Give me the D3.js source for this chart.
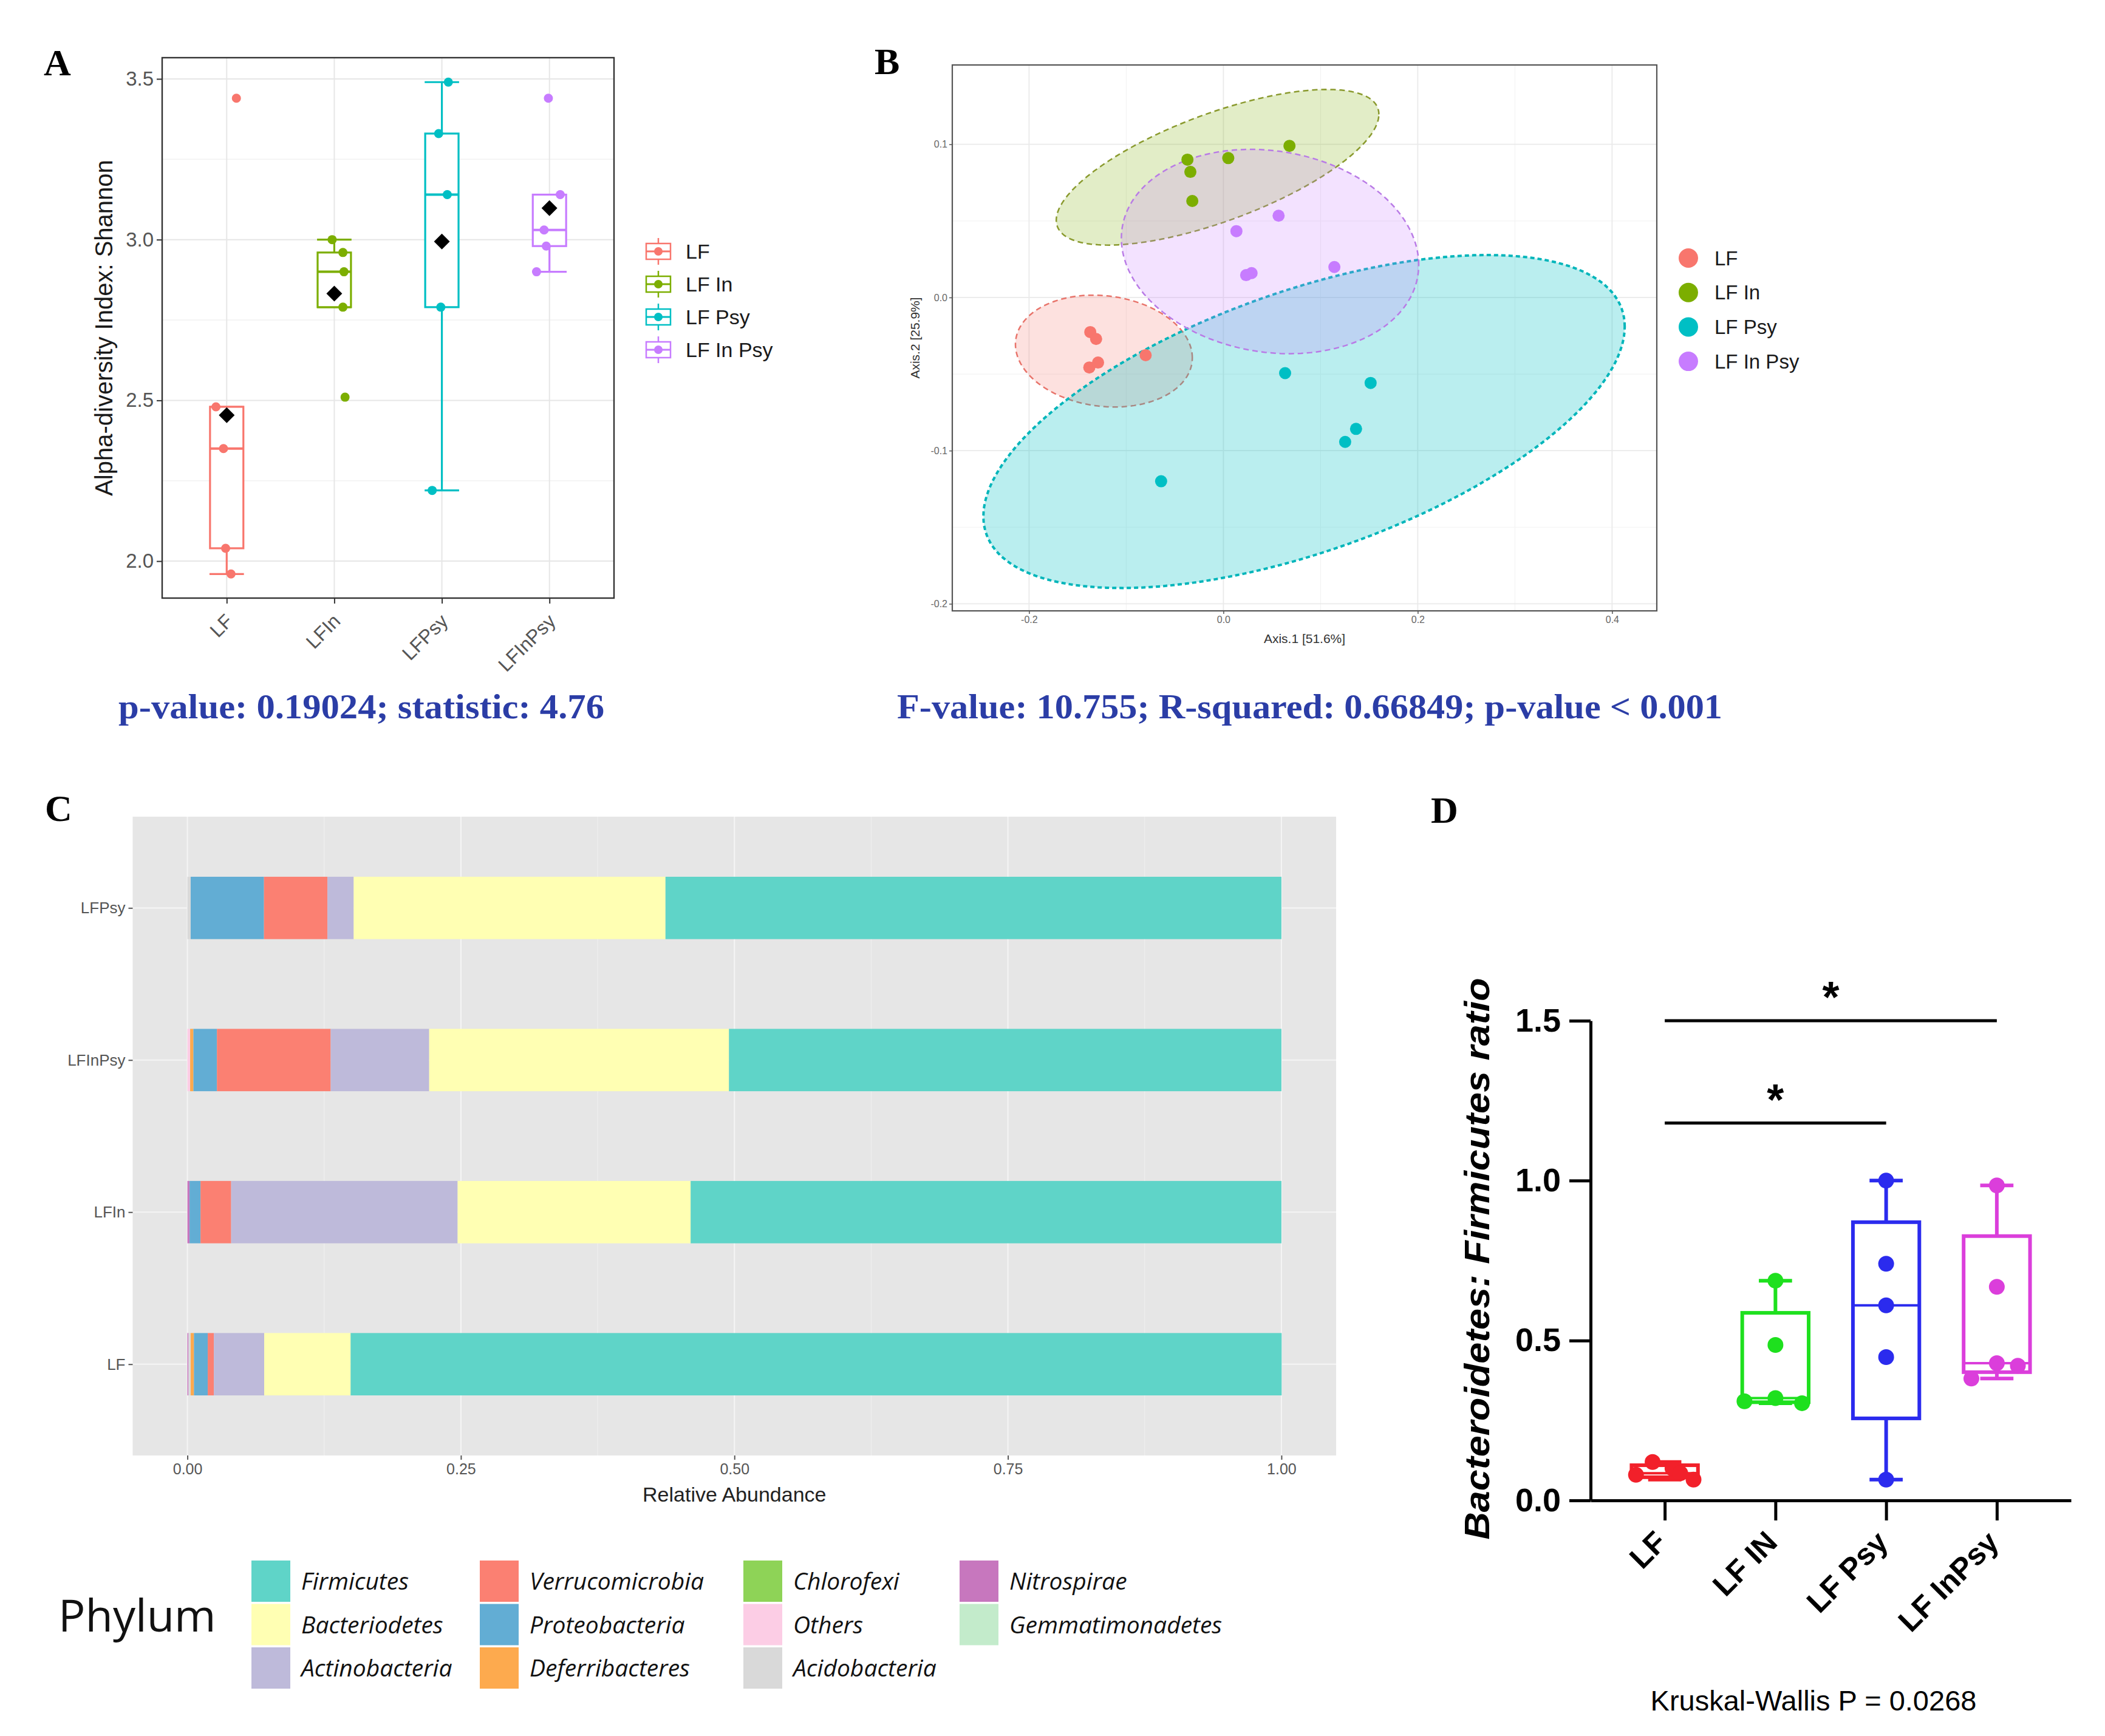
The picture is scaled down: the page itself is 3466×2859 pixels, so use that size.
<!DOCTYPE html>
<html><head><meta charset="utf-8">
<script src="https://cdn.jsdelivr.net/npm/d3@7/dist/d3.min.js"></script>
<style>html,body{margin:0;padding:0;background:#fff;} svg{display:block;}</style>
</head><body>
<svg id="fig" width="3466" height="2859" xmlns="http://www.w3.org/2000/svg"></svg>
<script>
// ================= DATA =================
// Panel A : Shannon alpha diversity
const groupsA = ["LF", "LFIn", "LFPsy", "LFInPsy"];
const legendLabels = ["LF", "LF In", "LF Psy", "LF In Psy"];
const shannonLF = [3.44, 2.48, 2.35, 2.04, 1.96];
const shannonLFIn = [3.00, 2.96, 2.90, 2.79, 2.51];
const shannonLFPsy = [3.49, 3.33, 3.14, 2.79, 2.22];
const shannonLFInPsy = [3.44, 3.14, 3.03, 2.98, 2.90];
const jitterLF = [0.09, -0.10, -0.03, -0.01, 0.04];
const jitterLFIn = [-0.02, 0.08, 0.09, 0.08, 0.10];
const jitterLFPsy = [0.06, -0.03, 0.05, -0.01, -0.09];
const jitterLFInPsy = [-0.01, 0.10, -0.05, -0.03, -0.12];
const yTicksA = [2.0, 2.5, 3.0, 3.5];
const yMinorA = [2.25, 2.75, 3.25];
const statA = "p-value: 0.19024; statistic: 4.76";

// Panel B : PCoA
const pcoaX_LF = [-0.137, -0.131, -0.138, -0.129, -0.080];
const pcoaY_LF = [-0.0226, -0.0271, -0.0457, -0.0425, -0.0377];
const pcoaX_LFIn = [-0.037, -0.034, -0.032, 0.005, 0.068];
const pcoaY_LFIn = [0.090, 0.082, 0.063, 0.091, 0.099];
const pcoaX_LFPsy = [0.0635, 0.1515, 0.1365, 0.1253, -0.0641];
const pcoaY_LFPsy = [-0.0494, -0.0558, -0.0858, -0.0943, -0.120];
const pcoaX_LFInPsy = [0.0134, 0.0568, 0.0234, 0.029, 0.1142];
const pcoaY_LFInPsy = [0.0433, 0.0534, 0.0146, 0.0159, 0.0199];
// confidence ellipses (centre, x/y half-extent, correlation) in axis units, order LF, LF In, LF Psy, LF In Psy
const ellipseCx = [-0.123, -0.006, 0.083, 0.048];
const ellipseCy = [-0.035, 0.085, -0.081, 0.030];
const ellipseSx = [0.091, 0.166, 0.330, 0.153];
const ellipseSy = [0.0365, 0.0508, 0.1087, 0.0667];
const ellipseR = [-0.12, 0.68, 0.57, -0.13];
const xTicksB = [-0.2, 0.0, 0.2, 0.4];
const xMinorB = [-0.1, 0.1, 0.3];
const yTicksB = [-0.2, -0.1, 0.0, 0.1];
const yMinorB = [-0.15, -0.05, 0.05];
const axisLabelB1 = "Axis.1   [51.6%]";
const axisLabelB2 = "Axis.2   [25.9%]";
const statB = "F-value: 10.755; R-squared: 0.66849; p-value < 0.001";

// Panel C : relative abundance by phylum
const samplesC = ["LFPsy", "LFInPsy", "LFIn", "LF"];
const phyla = ["Firmicutes", "Bacteriodetes", "Actinobacteria", "Verrucomicrobia", "Proteobacteria",
  "Deferribacteres", "Chlorofexi", "Others", "Acidobacteria", "Nitrospirae", "Gemmatimonadetes"];
const phylaColors = ["#5FD4C8", "#FFFFB3", "#BEBADA", "#FB8072", "#62ADD4",
  "#FDAA4E", "#8ED357", "#FCCDE5", "#D9D9D9", "#C777BE", "#C3EBCB"];
const abundLF = [0.851, 0.079, 0.046, 0.0056, 0.0126, 0.003, 0, 0, 0.002, 0.001, 0];
const abundLFIn = [0.540, 0.213, 0.207, 0.028, 0.010, 0, 0, 0, 0, 0.002, 0];
const abundLFInPsy = [0.505, 0.274, 0.090, 0.104, 0.0215, 0.003, 0, 0.0025, 0, 0, 0];
const abundLFPsy = [0.563, 0.285, 0.024, 0.058, 0.067, 0, 0, 0, 0.003, 0, 0];
const xTicksC = [0, 0.25, 0.5, 0.75, 1.0];
const xMinorC = [0.125, 0.375, 0.625, 0.875];

// Panel D : Bacteroidetes / Firmicutes ratio
const groupsD = ["LF", "LF IN", "LF Psy", "LF InPsy"];
const colorsD = ["#F2202A", "#1EE01E", "#2B2BEE", "#DB3EDB"];
const ratioLF = [0.080, 0.120, 0.100, 0.065, 0.085];
const ratioLFIN = [0.687, 0.486, 0.310, 0.320, 0.304];
const ratioLFPsy = [1.000, 0.740, 0.610, 0.448, 0.065];
const ratioLFInPsy = [0.985, 0.668, 0.429, 0.421, 0.381];
const dodgeLF = [-0.26, -0.11, 0.07, 0.26, 0.14];
const dodgeLFIN = [0, 0, -0.28, 0, 0.24];
const dodgeLFPsy = [0, 0, 0, 0, 0];
const dodgeLFInPsy = [0, 0, 0, 0.19, -0.23];
const yTicksD = [0.0, 0.5, 1.0, 1.5];
const sigFrom = ["LF", "LF"];
const sigTo = ["LF InPsy", "LF Psy"];
const sigY = [1.5, 1.18];
const statD = "Kruskal-Wallis P = 0.0268";

// ================= DRAWING =================
const svg = d3.select("#fig");
const sans = "'Liberation Sans', Arial, Helvetica, sans-serif";
const serif = "'Liberation Serif', 'Times New Roman', serif";
const oSans = "'Open Sans', 'Noto Sans', sans-serif";
const hue = ["#F8766D", "#7CAE00", "#00BFC4", "#C77CFF"];

svg.append("rect").attr("width", 3466).attr("height", 2859).attr("fill", "#fff");

function panelLetter(t, x, y) {
  svg.append("text").attr("x", x).attr("y", y).text(t)
    .attr("font-family", serif).attr("font-weight", "bold").attr("font-size", 62).attr("fill", "#000");
}
panelLetter("A", 72, 124);
panelLetter("B", 1440, 122);
panelLetter("C", 74, 1352);
panelLetter("D", 2356, 1355);

// ---------- Panel A ----------
(function () {
  const P = {l: 267, r: 1011, t: 95, b: 985};
  const x = d3.scalePoint().domain(groupsA).range([P.l, P.r]).padding(0.6);
  const y = d3.scaleLinear().domain([1.885, 3.566]).range([P.b, P.t]);
  const step = x.step();
  const g = svg.append("g");
  g.append("rect").attr("x", P.l).attr("y", P.t).attr("width", P.r - P.l).attr("height", P.b - P.t).attr("fill", "#fff");
  g.selectAll(".gmin").data(yMinorA).join("line")
    .attr("x1", P.l).attr("x2", P.r).attr("y1", d => y(d)).attr("y2", d => y(d))
    .attr("stroke", "#F1F1F1").attr("stroke-width", 1.5);
  g.selectAll(".gmaj").data(yTicksA).join("line")
    .attr("x1", P.l).attr("x2", P.r).attr("y1", d => y(d)).attr("y2", d => y(d))
    .attr("stroke", "#E6E6E6").attr("stroke-width", 2);
  g.selectAll(".gx").data(groupsA).join("line")
    .attr("x1", d => x(d)).attr("x2", d => x(d)).attr("y1", P.t).attr("y2", P.b)
    .attr("stroke", "#E6E6E6").attr("stroke-width", 2);

  const sets = [shannonLF, shannonLFIn, shannonLFPsy, shannonLFInPsy];
  const jits = [jitterLF, jitterLFIn, jitterLFPsy, jitterLFInPsy];
  sets.forEach((vals, i) => {
    const s = vals.slice().sort(d3.ascending);
    const q1 = d3.quantile(s, 0.25), med = d3.quantile(s, 0.5), q3 = d3.quantile(s, 0.75);
    const iqr = q3 - q1;
    const lo = d3.min(s.filter(v => v >= q1 - 1.5 * iqr));
    const hi = d3.max(s.filter(v => v <= q3 + 1.5 * iqr));
    const cx = x(groupsA[i]);
    const bw = 0.31 * step, cw = 0.16 * step;
    const col = hue[i];
    const b = g.append("g").attr("stroke", col).attr("stroke-width", 3.2).attr("fill", "none");
    b.append("line").attr("x1", cx).attr("x2", cx).attr("y1", y(lo)).attr("y2", y(q1));
    b.append("line").attr("x1", cx).attr("x2", cx).attr("y1", y(q3)).attr("y2", y(hi));
    [lo, hi].forEach(v => b.append("line").attr("x1", cx - cw).attr("x2", cx + cw).attr("y1", y(v)).attr("y2", y(v)));
    b.append("rect").attr("x", cx - bw / 2).attr("width", bw).attr("y", y(q3)).attr("height", y(q1) - y(q3)).attr("fill", "#fff");
    b.append("line").attr("x1", cx - bw / 2).attr("x2", cx + bw / 2).attr("y1", y(med)).attr("y2", y(med)).attr("stroke-width", 4);
    g.selectAll(null).data(vals).join("circle")
      .attr("cx", (d, k) => cx + jits[i][k] * step).attr("cy", d => y(d)).attr("r", 7.5).attr("fill", col);
    const m = d3.mean(vals), my = y(m), h = 13;
    g.append("path").attr("d", `M${cx},${my - h}L${cx + h},${my}L${cx},${my + h}L${cx - h},${my}Z`).attr("fill", "#000");
  });

  g.append("rect").attr("x", P.l).attr("y", P.t).attr("width", P.r - P.l).attr("height", P.b - P.t)
    .attr("fill", "none").attr("stroke", "#333").attr("stroke-width", 2.4);

  const ay = g.append("g").attr("transform", `translate(${P.l},0)`)
    .call(d3.axisLeft(y).tickValues(yTicksA).tickFormat(d3.format(".1f")).tickSize(9).tickPadding(5));
  ay.select(".domain").remove();
  ay.selectAll("line").attr("stroke", "#333").attr("stroke-width", 2);
  ay.selectAll("text").attr("font-size", 33).attr("font-family", sans).attr("fill", "#555");
  const ax = g.append("g").attr("transform", `translate(0,${P.b})`)
    .call(d3.axisBottom(x).tickSize(9).tickSizeOuter(0));
  ax.select(".domain").remove();
  ax.selectAll("text").remove();
  ax.selectAll("line").attr("stroke", "#333").attr("stroke-width", 2);
  g.selectAll(".xl").data(groupsA).join("text")
    .attr("transform", d => `translate(${x(d) + 12},${P.b + 40}) rotate(-45)`)
    .attr("text-anchor", "end").attr("font-size", 32).attr("font-family", sans).attr("fill", "#555").text(d => d);
  g.append("text").attr("transform", `translate(185,${(P.t + P.b) / 2}) rotate(-90)`)
    .attr("text-anchor", "middle").attr("font-size", 40).attr("font-family", sans).attr("fill", "#1a1a1a")
    .text("Alpha-diversity Index: Shannon");

  // legend
  legendLabels.forEach((lab, i) => {
    const ky = 414 + i * 54, kx = 1084, col = hue[i];
    const k = g.append("g").attr("stroke", col).attr("stroke-width", 2.5).attr("fill", "none");
    k.append("line").attr("x1", kx).attr("x2", kx).attr("y1", ky - 22).attr("y2", ky + 22);
    k.append("rect").attr("x", kx - 20).attr("y", ky - 13).attr("width", 40).attr("height", 26).attr("fill", "#fff");
    k.append("line").attr("x1", kx - 20).attr("x2", kx + 20).attr("y1", ky).attr("y2", ky).attr("stroke-width", 3);
    k.append("circle").attr("cx", kx).attr("cy", ky).attr("r", 7).attr("fill", col).attr("stroke", "none");
    g.append("text").attr("x", 1129).attr("y", ky).attr("dy", "0.35em").attr("font-size", 34)
      .attr("font-family", sans).attr("fill", "#1a1a1a").text(lab);
  });

  svg.append("text").attr("x", 195).attr("y", 1183).text(statA)
    .attr("font-family", serif).attr("font-weight", "bold").attr("font-size", 56).attr("fill", "#2B3DA6")
    .attr("textLength", 800).attr("lengthAdjust", "spacingAndGlyphs");
})();

// ---------- Panel B ----------
(function () {
  const P = {l: 1568, r: 2728, t: 107, b: 1006};
  const x = d3.scaleLinear().domain([-0.279, 0.446]).range([P.l, P.r]);
  const y = d3.scaleLinear().domain([-0.2046, 0.1518]).range([P.b, P.t]);
  const g = svg.append("g");
  g.append("rect").attr("x", P.l).attr("y", P.t).attr("width", P.r - P.l).attr("height", P.b - P.t).attr("fill", "#fff");
  const gl = (data, vert, col, w) => g.selectAll(null).data(data).join("line")
    .attr("x1", d => vert ? x(d) : P.l).attr("x2", d => vert ? x(d) : P.r)
    .attr("y1", d => vert ? P.t : y(d)).attr("y2", d => vert ? P.b : y(d))
    .attr("stroke", col).attr("stroke-width", w);
  gl(xMinorB, true, "#F3F3F3", 1.2); gl(yMinorB, false, "#F3F3F3", 1.2);
  gl(xTicksB, true, "#EAEAEA", 1.8); gl(yTicksB, false, "#EAEAEA", 1.8);

  svg.append("clipPath").attr("id", "clipB").append("rect")
    .attr("x", P.l).attr("y", P.t).attr("width", P.r - P.l).attr("height", P.b - P.t);
  const ge = g.append("g").attr("clip-path", "url(#clipB)");
  const ts = d3.range(0, 2 * Math.PI, Math.PI / 90);
  const line = d3.line().curve(d3.curveLinearClosed);
  const strokeW = [2.5, 2.5, 4, 2.5];
  const dash = ["9,6", "9,6", "7,5", "9,6"];
  const strokeCol = ["#E8746B", "#8A9A2E", "#00B5BA", "#B97BE6"];
  ellipseCx.forEach((cx, i) => {
    const pts = ts.map(t => [
      x(cx + ellipseSx[i] * Math.cos(t)),
      y(ellipseCy[i] + ellipseSy[i] * (ellipseR[i] * Math.cos(t) + Math.sqrt(1 - ellipseR[i] ** 2) * Math.sin(t)))
    ]);
    ge.append("path").attr("d", line(pts)).attr("fill", hue[i]).attr("fill-opacity", i === 2 ? 0.27 : 0.22)
      .attr("stroke", strokeCol[i]).attr("stroke-width", strokeW[i]).attr("stroke-dasharray", dash[i]);
  });
  const xs = [pcoaX_LF, pcoaX_LFIn, pcoaX_LFPsy, pcoaX_LFInPsy];
  const ys = [pcoaY_LF, pcoaY_LFIn, pcoaY_LFPsy, pcoaY_LFInPsy];
  xs.forEach((arr, i) => {
    g.selectAll(null).data(arr).join("circle")
      .attr("cx", d => x(d)).attr("cy", (d, k) => y(ys[i][k])).attr("r", 10).attr("fill", hue[i]);
  });
  g.append("rect").attr("x", P.l).attr("y", P.t).attr("width", P.r - P.l).attr("height", P.b - P.t)
    .attr("fill", "none").attr("stroke", "#555").attr("stroke-width", 2.2);
  const fmt = d => d.toFixed(1);
  const ay = g.append("g").attr("transform", `translate(${P.l},0)`)
    .call(d3.axisLeft(y).tickValues(yTicksB).tickFormat(fmt).tickSize(5).tickPadding(3));
  ay.select(".domain").remove();
  ay.selectAll("line").attr("stroke", "#555").attr("stroke-width", 1.5);
  ay.selectAll("text").attr("font-size", 16).attr("font-family", sans).attr("fill", "#666");
  const ax = g.append("g").attr("transform", `translate(0,${P.b})`)
    .call(d3.axisBottom(x).tickValues(xTicksB).tickFormat(fmt).tickSize(5).tickPadding(4));
  ax.select(".domain").remove();
  ax.selectAll("line").attr("stroke", "#555").attr("stroke-width", 1.5);
  ax.selectAll("text").attr("font-size", 16).attr("font-family", sans).attr("fill", "#666");
  g.append("text").attr("x", (P.l + P.r) / 2).attr("y", 1059).attr("text-anchor", "middle")
    .attr("font-size", 21).attr("font-family", sans).attr("fill", "#333").text(axisLabelB1);
  g.append("text").attr("transform", `translate(1514,${(P.t + P.b) / 2}) rotate(-90)`).attr("text-anchor", "middle")
    .attr("font-size", 21).attr("font-family", sans).attr("fill", "#333").text(axisLabelB2);
  legendLabels.forEach((lab, i) => {
    const ky = 425 + i * 56.7;
    g.append("circle").attr("cx", 2780).attr("cy", ky).attr("r", 16).attr("fill", hue[i]);
    g.append("text").attr("x", 2823).attr("y", ky).attr("dy", "0.35em").attr("font-size", 33)
      .attr("font-family", sans).attr("fill", "#1a1a1a").text(lab);
  });
  svg.append("text").attr("x", 1477).attr("y", 1183).text(statB)
    .attr("font-family", serif).attr("font-weight", "bold").attr("font-size", 56).attr("fill", "#2B3DA6")
    .attr("textLength", 1359).attr("lengthAdjust", "spacingAndGlyphs");
})();

// ---------- Panel C ----------
(function () {
  const P = {l: 218.5, r: 2200, t: 1345, b: 2397};
  const x = d3.scaleLinear().domain([-0.05, 1.05]).range([P.l, P.r]);
  const y = d3.scalePoint().domain(samplesC).range([P.t, P.b]).padding(0.6);
  const bh = 0.41 * y.step();
  const g = svg.append("g");
  g.append("rect").attr("x", P.l).attr("y", P.t).attr("width", P.r - P.l).attr("height", P.b - P.t).attr("fill", "#E6E6E6");
  g.selectAll(null).data(xMinorC).join("line").attr("x1", d => x(d)).attr("x2", d => x(d)).attr("y1", P.t).attr("y2", P.b)
    .attr("stroke", "#EFEFEF").attr("stroke-width", 1.2);
  g.selectAll(null).data(xTicksC).join("line").attr("x1", d => x(d)).attr("x2", d => x(d)).attr("y1", P.t).attr("y2", P.b)
    .attr("stroke", "#F4F4F4").attr("stroke-width", 2.2);
  g.selectAll(null).data(samplesC).join("line").attr("y1", d => y(d)).attr("y2", d => y(d)).attr("x1", P.l).attr("x2", P.r)
    .attr("stroke", "#F4F4F4").attr("stroke-width", 2.2);

  const bySample = {LF: abundLF, LFIn: abundLFIn, LFInPsy: abundLFInPsy, LFPsy: abundLFPsy};
  const rows = samplesC.map(s => {
    const o = {sample: s};
    phyla.forEach((p, k) => o[p] = bySample[s][k]);
    return o;
  });
  const keys = phyla.slice().reverse();
  const stack = d3.stack().keys(keys)(rows);
  const colOf = p => phylaColors[phyla.indexOf(p)];
  stack.forEach(layer => {
    g.selectAll(null).data(layer).join("rect")
      .attr("x", d => x(d[0])).attr("width", d => Math.max(0, x(d[1]) - x(d[0])))
      .attr("y", d => y(d.data.sample) - bh / 2).attr("height", bh)
      .attr("fill", colOf(layer.key));
  });
  const ay = g.append("g").attr("transform", `translate(${P.l},0)`)
    .call(d3.axisLeft(y).tickSize(7).tickPadding(5));
  ay.select(".domain").remove();
  ay.selectAll("line").attr("stroke", "#555").attr("stroke-width", 2);
  ay.selectAll("text").attr("font-size", 26).attr("font-family", sans).attr("fill", "#555");
  const ax = g.append("g").attr("transform", `translate(0,${P.b})`)
    .call(d3.axisBottom(x).tickValues(xTicksC).tickFormat(d3.format(".2f")).tickSize(7).tickPadding(6));
  ax.select(".domain").remove();
  ax.selectAll("line").attr("stroke", "#555").attr("stroke-width", 2);
  ax.selectAll("text").attr("font-size", 25).attr("font-family", sans).attr("fill", "#555");
  g.append("text").attr("x", (P.l + P.r) / 2).attr("y", 2473).attr("text-anchor", "middle")
    .attr("font-size", 34).attr("font-family", sans).attr("fill", "#222").text("Relative Abundance");

  // legend
  g.append("text").attr("x", 96).attr("y", 2660).attr("dy", "0.36em").attr("font-size", 74)
    .attr("font-family", oSans).attr("fill", "#111").text("Phylum");
  const colX = [414, 790, 1224, 1580];
  phyla.forEach((p, k) => {
    const c = Math.floor(k / 3), r = k % 3;
    const kx = colX[c], ky = 2570 + r * 71.5;
    g.append("rect").attr("x", kx).attr("y", ky).attr("width", 64).attr("height", 68).attr("fill", phylaColors[k]);
    g.append("text").attr("x", kx + 82).attr("y", ky + 34).attr("dy", "0.36em").attr("font-size", 39)
      .attr("font-style", "italic").attr("font-family", oSans).attr("fill", "#111").text(p);
  });
})();

// ---------- Panel D ----------
(function () {
  const P = {l: 2619, r: 3410, b: 2471};
  const x = d3.scalePoint().domain(groupsD).range([P.l, P.r]).padding(0.67);
  const y = d3.scaleLinear().domain([0, 1.5]).range([P.b, 1681]);
  const step = x.step();
  const g = svg.append("g");
  const q6 = (s, p) => {
    const h = (s.length + 1) * p - 1;
    const lo = Math.max(0, Math.floor(h)), hi = Math.min(s.length - 1, Math.ceil(h));
    return s[lo] + (h - lo) * (s[hi] - s[lo]);
  };
  const sets = [ratioLF, ratioLFIN, ratioLFPsy, ratioLFInPsy];
  const dodges = [dodgeLF, dodgeLFIN, dodgeLFPsy, dodgeLFInPsy];
  sets.forEach((vals, i) => {
    const s = vals.slice().sort(d3.ascending);
    const q1 = q6(s, 0.25), med = q6(s, 0.5), q3 = q6(s, 0.75);
    const lo = s[0], hi = s[s.length - 1];
    const cx = x(groupsD[i]), bw = 0.6 * step, cw = 0.3 * step, col = colorsD[i];
    const b = g.append("g").attr("stroke", col).attr("stroke-width", 6).attr("fill", "none");
    b.append("line").attr("x1", cx).attr("x2", cx).attr("y1", y(lo)).attr("y2", y(q1));
    b.append("line").attr("x1", cx).attr("x2", cx).attr("y1", y(q3)).attr("y2", y(hi));
    [lo, hi].forEach(v => b.append("line").attr("x1", cx - cw / 2).attr("x2", cx + cw / 2).attr("y1", y(v)).attr("y2", y(v)));
    b.append("rect").attr("x", cx - bw / 2).attr("width", bw).attr("y", y(q3)).attr("height", y(q1) - y(q3));
    b.append("line").attr("x1", cx - bw / 2).attr("x2", cx + bw / 2).attr("y1", y(med)).attr("y2", y(med)).attr("stroke-width", 4);
    g.selectAll(null).data(vals).join("circle")
      .attr("cx", (d, k) => cx + dodges[i][k] * step).attr("cy", d => y(d)).attr("r", 13).attr("fill", col);
  });
  const ay = g.append("g").attr("transform", `translate(${P.l},0)`)
    .call(d3.axisLeft(y).tickValues(yTicksD).tickFormat(d3.format(".1f")).tickSize(35).tickSizeOuter(0).tickPadding(14));
  ay.select(".domain").attr("stroke", "#000").attr("stroke-width", 5);
  ay.selectAll("line").attr("stroke", "#000").attr("stroke-width", 5);
  ay.selectAll("text").attr("font-size", 54).attr("font-weight", "bold").attr("font-family", sans).attr("fill", "#000");
  const ax = g.append("g").attr("transform", `translate(0,${P.b})`)
    .call(d3.axisBottom(x).tickSize(33).tickSizeOuter(0));
  ax.select(".domain").attr("stroke", "#000").attr("stroke-width", 5);
  ax.selectAll("line").attr("stroke", "#000").attr("stroke-width", 5);
  ax.selectAll("text").remove();
  g.selectAll(".xl").data(groupsD).join("text")
    .attr("transform", d => `translate(${x(d) + 6},${P.b + 72}) rotate(-45)`)
    .attr("text-anchor", "end").attr("font-size", 50).attr("font-weight", "bold").attr("font-family", sans)
    .attr("fill", "#000").text(d => d);
  g.append("text").attr("transform", `translate(2452,2073) rotate(-90)`).attr("text-anchor", "middle")
    .attr("font-size", 58).attr("font-weight", "bold").attr("font-style", "italic").attr("font-family", sans)
    .attr("fill", "#000").attr("textLength", 925).attr("lengthAdjust", "spacingAndGlyphs")
    .text("Bacteroidetes: Firmicutes ratio");
  sigY.forEach((v, i) => {
    const x1 = x(sigFrom[i]), x2 = x(sigTo[i]);
    g.append("line").attr("x1", x1).attr("x2", x2).attr("y1", y(v)).attr("y2", y(v)).attr("stroke", "#000").attr("stroke-width", 5);
    g.append("text").attr("x", (x1 + x2) / 2).attr("y", y(v) - 14).attr("text-anchor", "middle")
      .attr("font-size", 72).attr("font-weight", "bold").attr("font-family", sans).attr("fill", "#000").text("*");
  });
  g.append("text").attr("x", 2986).attr("y", 2817).attr("text-anchor", "middle").attr("font-size", 47)
    .attr("font-family", sans).attr("fill", "#000").text(statD);
})();
</script>
</body></html>
